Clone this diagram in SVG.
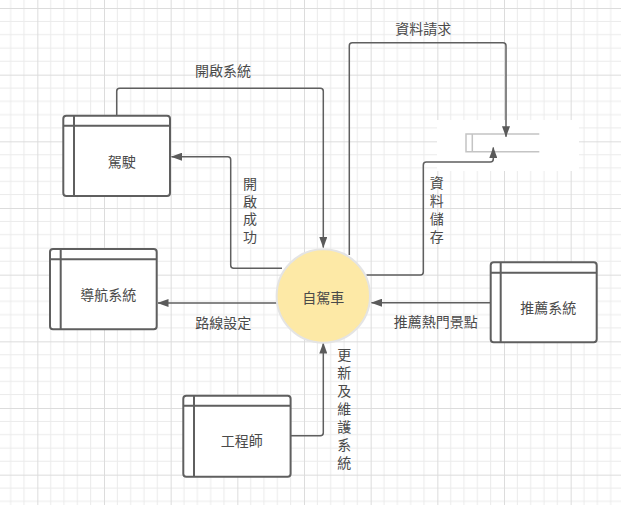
<svg xmlns="http://www.w3.org/2000/svg" width="621" height="505" viewBox="0 0 621 505">
  <style>
    .box { fill: #ffffff; stroke: #5f5f5f; stroke-width: 2; }
    .div { stroke: #5f5f5f; stroke-width: 2; fill: none; }
    .edge { fill: none; stroke: #5f5f5f; stroke-width: 1.5; stroke-linejoin: round; }
    .lbl { font-family: "Noto Sans CJK TC", "Noto Sans CJK SC", sans-serif; font-size: 14px; fill: #4a4a4a; text-anchor: middle; dominant-baseline: central; }
    .vlbl { font-family: "Noto Sans CJK TC", "Noto Sans CJK SC", sans-serif; font-size: 14px; fill: #4a4a4a; writing-mode: vertical-rl; text-anchor: start; letter-spacing: 3.9px; }
    .store { fill: none; stroke: #c4c4c4; stroke-width: 1.5; }
  </style>
  <defs>
    <pattern id="grid" patternUnits="userSpaceOnUse" x="37.333" y="8" width="66.667" height="66.667">
      <path d="M13.333 0V66.667M26.667 0V66.667M40 0V66.667M53.333 0V66.667M0 13.333H66.667M0 26.667H66.667M0 40H66.667M0 53.333H66.667" stroke="#ebebeb" stroke-width="1" fill="none"/>
      <path d="M0.5 0V66.667M0 0.5H66.667" stroke="#dcdcdc" stroke-width="1" fill="none"/>
    </pattern>
    <marker id="arrow" viewBox="0 0 11 8" refX="10.5" refY="4" markerWidth="11" markerHeight="8" markerUnits="userSpaceOnUse" orient="auto">
      <path d="M0 0L11 4L0 8z" fill="#5a5a5a"/>
    </marker>
  </defs>

  <!-- background grid -->
  <rect width="621" height="505" fill="#ffffff"/>
  <rect width="621" height="505" fill="url(#grid)"/>

  <!-- data store -->
  <g id="datastore">
    <rect x="437" y="120" width="142" height="51" fill="#ffffff"/>
    <path class="store" d="M539.3 134H466V151.7H539.3M472.3 134V151.7"/>
  </g>

  <!-- connectors -->
  <g id="connectors">
    <path class="edge" marker-end="url(#arrow)" d="M116.7 115.7V91.3Q116.7 88.3 119.7 88.3H320.3Q323.3 88.3 323.3 91.3V247.5"/>
    <path class="edge" marker-end="url(#arrow)" d="M282 268.3H233.7Q230.7 268.3 230.7 265.3V159.7Q230.7 156.7 227.7 156.7H171.5"/>
    <path class="edge" marker-end="url(#arrow)" d="M276.7 303H158"/>
    <path class="edge" marker-end="url(#arrow)" d="M490.7 302.7H371.5"/>
    <path class="edge" marker-end="url(#arrow)" d="M290.7 435.7H320.3Q323.3 435.7 323.3 432.7V343"/>
    <path class="edge" marker-end="url(#arrow)" d="M349.3 255V45.7Q349.3 42.7 352.3 42.7H503Q506 42.7 506 45.7V136.7"/>
    <path class="edge" marker-end="url(#arrow)" d="M366.5 275H420.3Q423.3 275 423.3 272V165Q423.3 162 426.3 162H490.3Q493.3 162 493.3 159V147.5"/>
  </g>

  <!-- nodes -->
  <g id="driving">
    <rect class="box" x="63.3" y="115.7" width="106.7" height="80.3" rx="3"/>
    <path class="div" d="M63.3 125.7H170M74 115.7V196"/>
    <text class="lbl" x="121.7" y="160.5">駕駛</text>
  </g>
  <g id="navigation">
    <rect class="box" x="50" y="249" width="106.7" height="80.3" rx="3"/>
    <path class="div" d="M50 259.3H156.7M60.7 249V329.3"/>
    <text class="lbl" x="108.3" y="293.5">導航系統</text>
  </g>
  <g id="recommend">
    <rect class="box" x="490.7" y="262.3" width="106" height="80" rx="3"/>
    <path class="div" d="M490.7 272.7H596.7M500.7 262.3V342.3"/>
    <text class="lbl" x="548.3" y="307">推薦系統</text>
  </g>
  <g id="engineer">
    <rect class="box" x="183.3" y="395.7" width="107.3" height="81" rx="3"/>
    <path class="div" d="M183.3 405.7H290.7M194 395.7V476.7"/>
    <text class="lbl" x="241.7" y="440">工程師</text>
  </g>
  <g id="car">
    <circle cx="323.3" cy="296" r="46.7" fill="#fde9a6" stroke="#e4e4e4" stroke-width="2"/>
    <text class="lbl" x="323.3" y="297">自駕車</text>
  </g>

  <!-- edge labels -->
  <g id="labels">
    <text class="lbl" x="223" y="70">開啟系統</text>
    <text class="vlbl" x="250" y="176.3">開啟成功</text>
    <text class="lbl" x="223.3" y="321.7">路線設定</text>
    <text class="lbl" x="435.7" y="321">推薦熱門景點</text>
    <text class="lbl" x="423.3" y="28.3">資料請求</text>
    <text class="vlbl" x="436.7" y="175.7">資料儲存</text>
    <text class="vlbl" x="344.3" y="348">更新及維護系統</text>
  </g>
</svg>
